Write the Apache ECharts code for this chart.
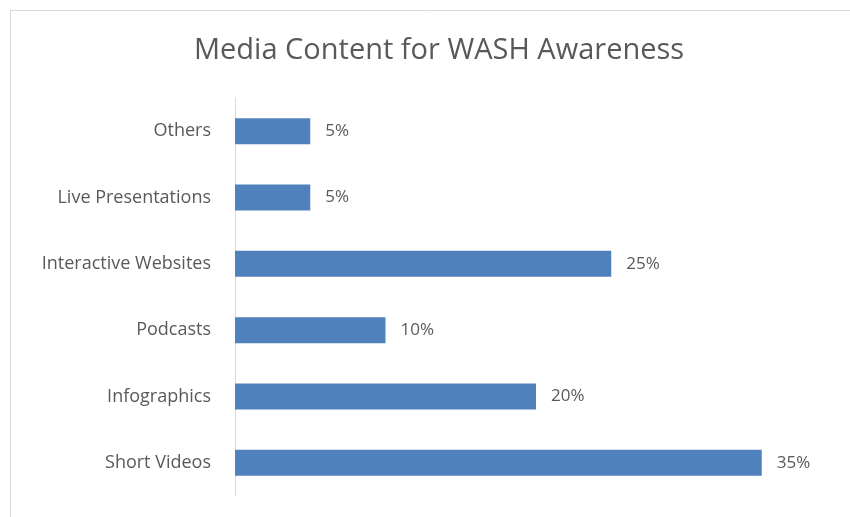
<!DOCTYPE html>
<html>
<head>
<meta charset="utf-8">
<script src="https://cdn.jsdelivr.net/npm/echarts@6/dist/echarts.min.js"></script>
<style>
  html, body { margin: 0; padding: 0; background: #fff; }
  #chart { width: 850px; height: 517px; }
</style>
</head>
<body>
<div id="chart"></div>
<script>
// Share of media content types used for WASH awareness (percent)
const categories = ['Short Videos', 'Infographics', 'Podcasts', 'Interactive Websites', 'Live Presentations', 'Others'];
const shares = [35, 20, 10, 25, 5, 5];

const FONT = '"Open Sans", Lato, sans-serif';
const chart = echarts.init(document.getElementById('chart'), null, { renderer: 'canvas' });

chart.setOption({
  backgroundColor: '#ffffff',
  animation: false,
  title: {
    text: 'Media Content for WASH Awareness',
    left: 189,
    top: 31,
    textStyle: { fontFamily: FONT, fontSize: 29, fontWeight: 'normal', color: '#595959' }
  },
  graphic: [{
    type: 'rect',
    shape: { x: 10.5, y: 10.5, width: 860, height: 520 },
    style: { fill: 'none', stroke: '#d9d9d9', lineWidth: 1 },
    silent: true
  }],
  grid: { left: 235, right: 13, top: 98, bottom: 21, containLabel: false },
  xAxis: {
    type: 'value',
    min: 0,
    max: 40,
    show: false
  },
  yAxis: {
    type: 'category',
    data: categories,
    axisLine: { show: true, lineStyle: { color: '#d9d9d9', width: 1 } },
    axisTick: { show: false },
    axisLabel: { margin: 24, fontFamily: FONT, fontSize: 18, color: '#595959' },
    splitLine: { show: false }
  },
  series: [{
    type: 'bar',
    data: shares,
    barWidth: 26,
    itemStyle: { color: '#4f81bd' },
    label: {
      show: true,
      position: 'right',
      distance: 15,
      formatter: '{c}%',
      fontFamily: FONT,
      fontSize: 17,
      color: '#595959'
    }
  }]
});
</script>
</body>
</html>
